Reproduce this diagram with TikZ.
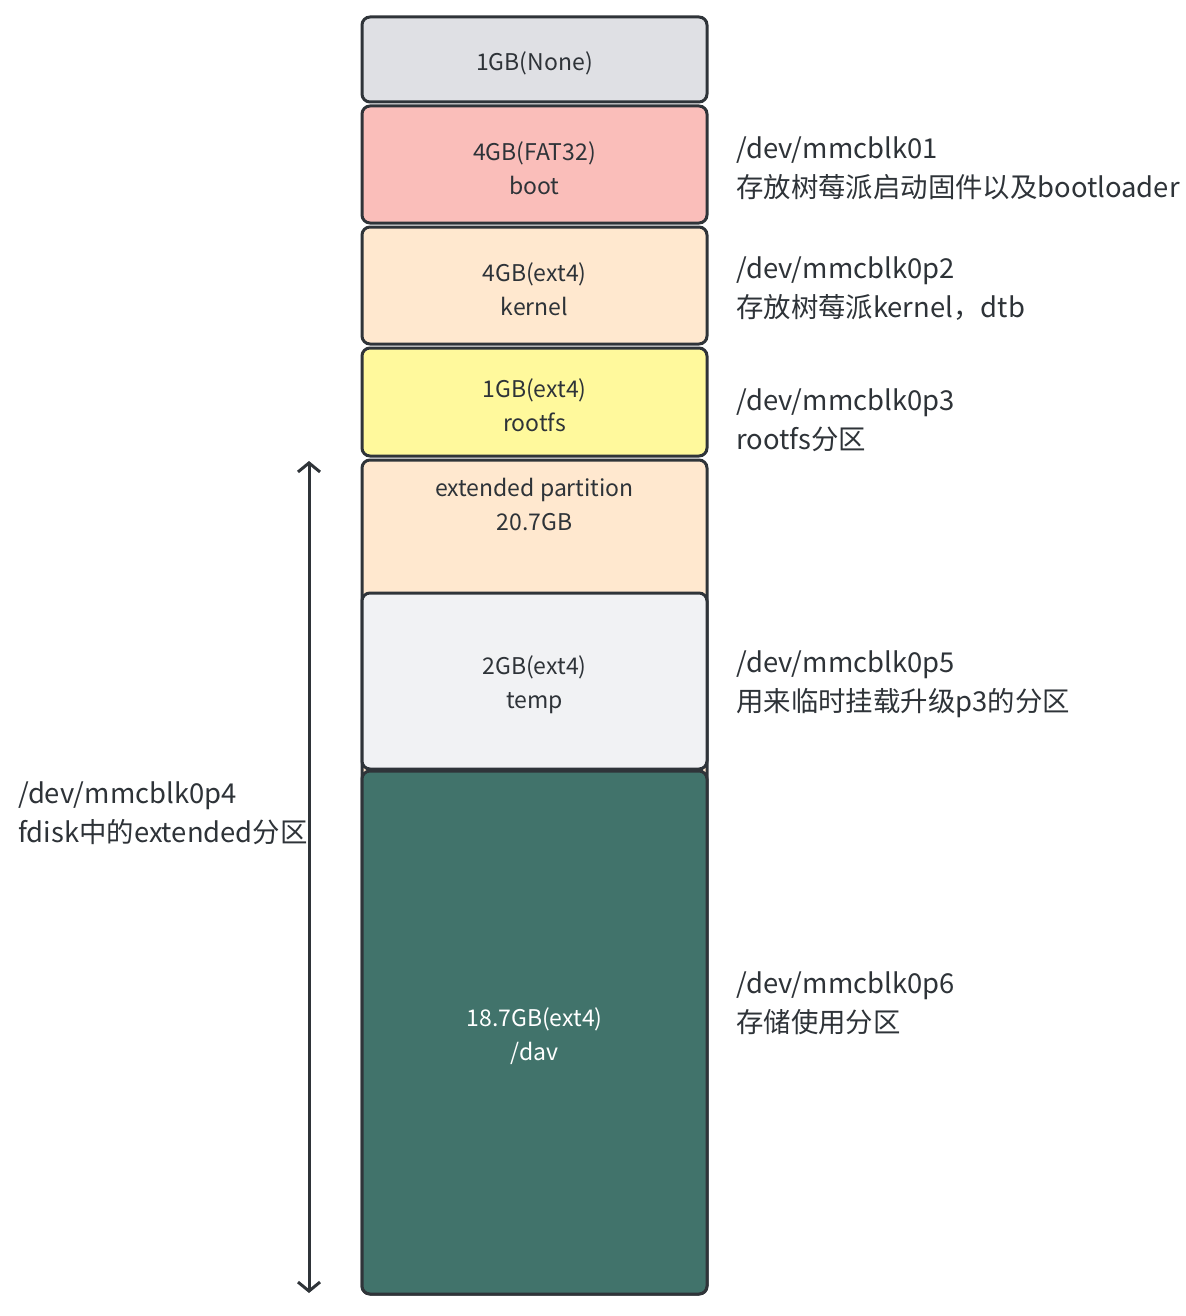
\documentclass[tikz,border=0pt]{standalone}
\usepackage{fontspec}
\setmainfont{Noto Sans CJK SC}
\usetikzlibrary{arrows.meta}
\definecolor{edge}{HTML}{2F3439}
\definecolor{txt}{HTML}{2E3338}
\definecolor{cNone}{HTML}{DFE0E4}
\definecolor{cBoot}{HTML}{FABEBA}
\definecolor{cPeach}{HTML}{FFE8CF}
\definecolor{cYellow}{HTML}{FFF99C}
\definecolor{cTemp}{HTML}{F1F2F4}
\definecolor{cDav}{HTML}{41736B}
\begin{document}
\begin{tikzpicture}[x=1pt,y=-1pt,
  part/.style={draw=edge, line width=3pt, rounded corners=8pt, minimum width=345pt, inner sep=0pt},
  ptext/.style={align=center, text=txt, font=\fontsize{23}{34}\selectfont, inner sep=0pt},
  lab/.style={anchor=west, align=left, text=txt, font=\fontsize{27.4}{39}\selectfont, inner sep=0pt},
  dim/.style={draw=edge, line width=3pt, {Straight Barb[length=9pt,width=22pt]}-{Straight Barb[length=9pt,width=22pt]}}]
\useasboundingbox (0,0) rectangle (1185,1316);
% partitions
\node[part, fill=cNone, minimum height=85pt] (p0) at (534.5,59.5) {};
\node[part, fill=cBoot, minimum height=117pt] (p1) at (534.5,164.5) {};
\node[part, fill=cPeach, minimum height=117pt] (p2) at (534.5,285.5) {};
\node[part, fill=cYellow, minimum height=108pt] (p3) at (534.5,402) {};
\node[part, fill=cPeach, minimum height=834pt] (p4) at (534.5,877) {};
\node[part, fill=cTemp, minimum height=176pt] (p5) at (534.5,681) {};
\node[part, fill=cDav, minimum height=523pt] (p6) at (534.5,1032.5) {};
% partition texts
\node[ptext] (t0) at (534.5,63) {1GB(None)};
\node[ptext] (t1) at (534.5,168) {4GB(FAT32)\\boot};
\node[ptext] (t2) at (534.5,289) {4GB(ext4)\\kernel};
\node[ptext] (t3) at (534.5,405) {1GB(ext4)\\rootfs};
\node[ptext] (t4) at (534.5,504.5) {extended partition\\20.7GB};
\node[ptext] (t5) at (534.5,684.5) {2GB(ext4)\\temp};
\node[ptext, text=white] (t6) at (534.5,1036.5) {18.7GB(ext4)\\/dav};
% labels
\node[lab] (l1) at (736,168) {/dev/mmcblk01\\存放树莓派启动固件以及bootloader};
\node[lab] (l2) at (736,289) {/dev/mmcblk0p2\\存放树莓派kernel，dtb};
\node[lab] (l3) at (736,420) {/dev/mmcblk0p3\\rootfs分区};
\node[lab] (l5) at (736,684) {/dev/mmcblk0p5\\用来临时挂载升级p3的分区};
\node[lab] (l6) at (736,1003) {/dev/mmcblk0p6\\存储使用分区};
\node[lab] (l4) at (18,813) {/dev/mmcblk0p4\\fdisk中的extended分区};
% dimension arrow
\coordinate (aT) at (309,461);
\coordinate (aB) at (309,1293);
\draw[dim] (aT) -- (aB);
\end{tikzpicture}
\end{document}
